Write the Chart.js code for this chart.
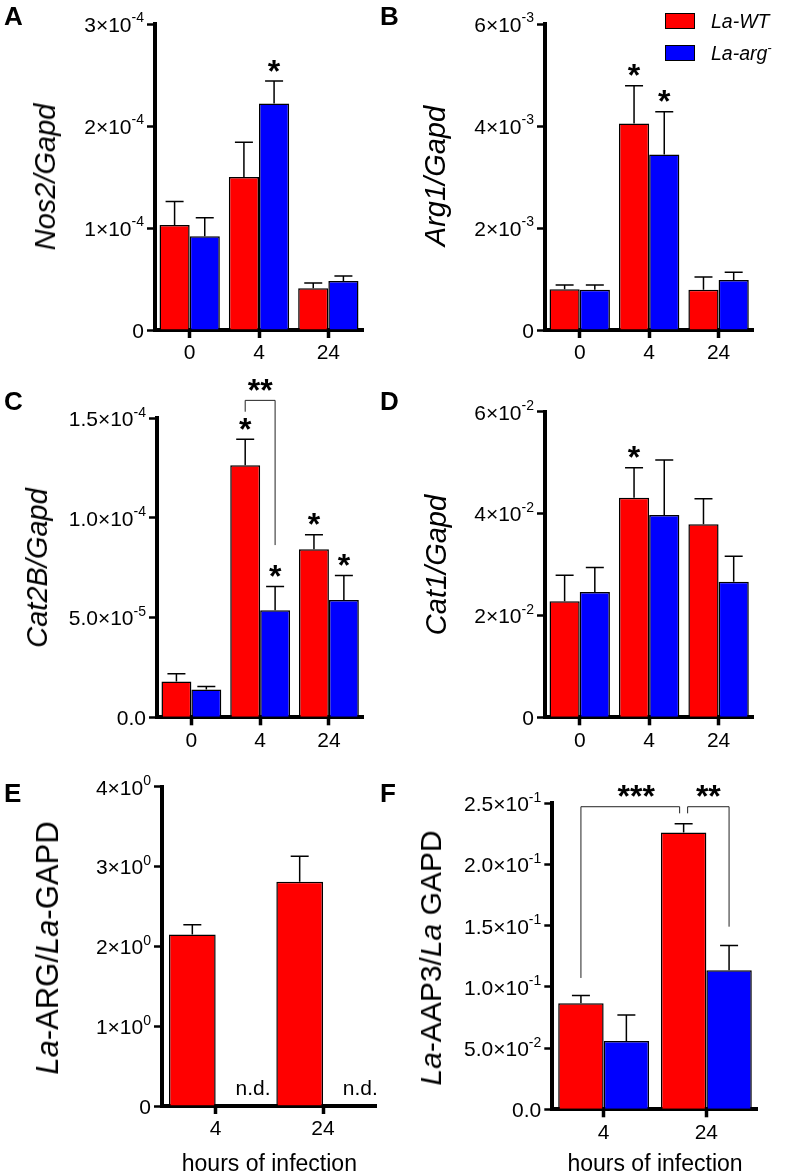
<!DOCTYPE html>
<html>
<head>
<meta charset="utf-8">
<script src="https://cdn.jsdelivr.net/npm/chart.js"></script>
<style>
  html, body { margin: 0; padding: 0; background: #fff; }
  body { width: 787px; height: 1176px; position: relative; overflow: hidden;
         font-family: 'Liberation Sans', Arial, sans-serif; color: #000; }
  canvas { position: absolute; }
  .lbl { position: absolute; font-weight: bold; font-size: 26px; line-height: 1; }
  .yt { position: absolute; line-height: 1; white-space: nowrap;
        transform-origin: 0 0; transform: rotate(-90deg) translateX(-50%); }
  .box { position: absolute; width: 30px; height: 16px; border: 1px solid #000; box-sizing: border-box; }
  .leg { position: absolute; font-size: 19.5px; line-height: 1; font-style: italic; white-space: nowrap; }
  .leg sup { font-style: normal; font-size: 13px; line-height: 0; vertical-align: 8px; }
</style>
</head>
<body>
<canvas id="cA" width="390" height="380" style="left:0;top:0"></canvas>
<canvas id="cB" width="397" height="380" style="left:390px;top:0"></canvas>
<canvas id="cC" width="390" height="400" style="left:0;top:370px"></canvas>
<canvas id="cD" width="397" height="400" style="left:390px;top:370px"></canvas>
<canvas id="cE" width="390" height="406" style="left:0;top:770px"></canvas>
<canvas id="cF" width="397" height="406" style="left:390px;top:770px"></canvas>

<div class="lbl" style="left:4px;top:3px">A</div>
<div class="lbl" style="left:380px;top:3px">B</div>
<div class="lbl" style="left:4px;top:388px">C</div>
<div class="lbl" style="left:380px;top:388px">D</div>
<div class="lbl" style="left:4px;top:780px">E</div>
<div class="lbl" style="left:380px;top:780px">F</div>

<div class="yt" style="left:31px;top:177px;font-size:29px"><i>Nos2/Gapd</i></div>
<div class="yt" style="left:421px;top:176px;font-size:29px"><i>Arg1/Gapd</i></div>
<div class="yt" style="left:22.5px;top:568px;font-size:29px"><i>Cat2B/Gapd</i></div>
<div class="yt" style="left:421.5px;top:565px;font-size:29px"><i>Cat1/Gapd</i></div>
<div class="yt" style="left:31.8px;top:948px;font-size:31px"><i>La</i>-ARG/<i>La</i>-GAPD</div>
<div class="yt" style="left:415.6px;top:958px;font-size:30px"><i>La</i>-AAP3/<i>La</i> GAPD</div>

<div class="box" style="left:665px;top:13px;background:#ff0000"></div>
<div class="box" style="left:665px;top:45px;background:#0000ff"></div>
<div class="leg" style="left:711px;top:12px">La-WT</div>
<div class="leg" style="left:711px;top:44px">La-arg<sup>-</sup></div>

<script>
const hours = ['0', '4', '24'];
const hoursInf = ['4', '24'];

// A: Nos2/Gapd
const nos2WT = [1.03e-4, 1.50e-4, 0.41e-4];
const nos2WTErr = [0.23e-4, 0.34e-4, 0.05e-4];
const nos2Arg = [0.92e-4, 2.22e-4, 0.48e-4];
const nos2ArgErr = [0.18e-4, 0.22e-4, 0.05e-4];
const nos2Ticks = [['0'], ['1×10', '-4'], ['2×10', '-4'], ['3×10', '-4']];

// B: Arg1/Gapd
const arg1WT = [0.80e-3, 4.05e-3, 0.79e-3];
const arg1WTErr = [0.08e-3, 0.74e-3, 0.25e-3];
const arg1Arg = [0.79e-3, 3.44e-3, 0.98e-3];
const arg1ArgErr = [0.09e-3, 0.84e-3, 0.15e-3];
const arg1Ticks = [['0'], ['2×10', '-3'], ['4×10', '-3'], ['6×10', '-3']];

// C: Cat2B/Gapd
const cat2bWT = [1.79e-5, 12.64e-5, 8.43e-5];
const cat2bWTErr = [0.40e-5, 1.31e-5, 0.73e-5];
const cat2bArg = [1.40e-5, 5.37e-5, 5.89e-5];
const cat2bArgErr = [0.14e-5, 1.19e-5, 1.22e-5];
const cat2bTicks = [['0.0'], ['5.0×10', '-5'], ['1.0×10', '-4'], ['1.5×10', '-4']];

// D: Cat1/Gapd
const cat1WT = [2.28e-2, 4.31e-2, 3.79e-2];
const cat1WTErr = [0.51e-2, 0.59e-2, 0.50e-2];
const cat1Arg = [2.46e-2, 3.97e-2, 2.66e-2];
const cat1ArgErr = [0.48e-2, 1.08e-2, 0.50e-2];
const cat1Ticks = [['0'], ['2×10', '-2'], ['4×10', '-2'], ['6×10', '-2']];

// E: La-ARG/La-GAPD (arg- not detected)
const laArgWT = [2.15, 2.81];
const laArgWTErr = [0.12, 0.32];
const laArgArg = [null, null];
const laArgArgErr = [0, 0];
const laArgTicks = [['0'], ['1×10', '0'], ['2×10', '0'], ['3×10', '0'], ['4×10', '0']];

// F: La-AAP3/La GAPD
const aap3WT = [0.0866, 0.2262];
const aap3WTErr = [0.0063, 0.0070];
const aap3Arg = [0.0559, 0.1136];
const aap3ArgErr = [0.0212, 0.0202];
const aap3Ticks = [['0.0'], ['5.0×10', '-2'], ['1.0×10', '-1'], ['1.5×10', '-1'], ['2.0×10', '-1'], ['2.5×10', '-1']];

// significance marks: [dataset, category, text]
const nos2Stars = [[1, 1, '*']];
const arg1Stars = [[0, 1, '*'], [1, 1, '*']];
const cat2bStars = [[0, 1, '*'], [1, 1, '*'], [0, 2, '*'], [1, 2, '*']];
const cat1Stars = [[0, 1, '*']];
// brackets: ends [dataset, category, value], top value, label
const cat2bBrackets = [{ a: [0, 1, 1.533e-4], b: [1, 1, 0.864e-4], top: 1.59e-4, text: '**' }];
const aap3Brackets = [
  { a: [0, 0, 0.1073], b: [0, 1, 0.2418], top: 0.2472, text: '***', bdx: -4, tdx: 6 },
  { a: [0, 1, 0.2418], b: [1, 1, 0.1492], top: 0.2472, text: '**', adx: 4 }
];

const FAMILY = "'Liberation Sans', Arial, sans-serif";
Chart.defaults.font.family = FAMILY;
Chart.defaults.color = '#000';

function glyphText(ctx, text, x, cy) {
  ctx.textAlign = 'center';
  ctx.textBaseline = 'alphabetic';
  const m = ctx.measureText(text);
  ctx.fillText(text, x, cy + (m.actualBoundingBoxAscent - m.actualBoundingBoxDescent) / 2);
}

const annot = {
  id: 'annot',
  afterDatasetsDraw(chart, args, opts) {
    const ctx = chart.ctx, ys = chart.scales.y, xs = chart.scales.x;
    const barX = (d, i) => chart.getDatasetMeta(d).data[i].x;
    ctx.save();
    ctx.strokeStyle = '#000';
    ctx.fillStyle = '#000';
    // error bars (upper only)
    chart.data.datasets.forEach((ds, d) => {
      const meta = chart.getDatasetMeta(d);
      ds.data.forEach((v, i) => {
        const bar = meta.data[i];
        if (v == null) {
          if (opts.nd) {
            ctx.font = '21px ' + FAMILY;
            const x = bar && isFinite(bar.x) ? bar.x : xs.getPixelForValue(i) + 23;
            ctx.textAlign = 'center';
            ctx.textBaseline = 'alphabetic';
            ctx.fillText('n.d.', x + 14, ys.getPixelForValue(0) - 11);
          }
          return;
        }
        const top = ys.getPixelForValue(v + ds.errors[i]);
        ctx.lineWidth = 1.5;
        ctx.beginPath();
        ctx.moveTo(bar.x, bar.y);
        ctx.lineTo(bar.x, top);
        ctx.moveTo(bar.x - 9, top);
        ctx.lineTo(bar.x + 9, top);
        ctx.stroke();
      });
    });
    // stars above error bars
    ctx.font = 'bold 32px ' + FAMILY;
    (opts.stars || []).forEach(([d, i, t]) => {
      const ds = chart.data.datasets[d];
      const top = ys.getPixelForValue(ds.data[i] + ds.errors[i]);
      glyphText(ctx, t, barX(d, i), top - 15.5);
    });
    // comparison brackets
    (opts.brackets || []).forEach(b => {
      const xa = barX(b.a[0], b.a[1]) + (b.adx || 0);
      const xb = barX(b.b[0], b.b[1]) + (b.bdx || 0);
      const yt = ys.getPixelForValue(b.top);
      ctx.lineWidth = 1;
      ctx.strokeStyle = '#222';
      ctx.beginPath();
      ctx.moveTo(xa, ys.getPixelForValue(b.a[2]));
      ctx.lineTo(xa, yt);
      ctx.lineTo(xb, yt);
      ctx.lineTo(xb, ys.getPixelForValue(b.b[2]));
      ctx.stroke();
      glyphText(ctx, b.text, (xa + xb) / 2 + (b.tdx || 0), yt - 15.5);
    });
    ctx.restore();
  },
  // y tick labels with a raised exponent, placed on the scale's own ticks
  afterDraw(chart, args, opts) {
    const ctx = chart.ctx, ys = chart.scales.y;
    const labels = opts.tickLabels || [];
    const right = ys.right - 8 - 3;
    ctx.save();
    ctx.fillStyle = '#000';
    ctx.textBaseline = 'alphabetic';
    ctx.textAlign = 'right';
    ys.ticks.forEach((t, i) => {
      const lab = labels[i];
      if (!lab) return;
      const base = ys.getPixelForValue(t.value) + 7.8;
      let x = right;
      if (lab[1] !== undefined) {
        ctx.font = '14px ' + FAMILY;
        ctx.fillText(lab[1], x, base - 9.4);
        x -= ctx.measureText(lab[1]).width;
      }
      ctx.font = '21px ' + FAMILY;
      ctx.fillText(lab[0], x, base);
    });
    ctx.restore();
  }
};

function panel(id, o) {
  const cv = document.getElementById(id);
  const W = cv.width, H = cv.height;
  const datasets = [
    { label: 'La-WT', data: o.wt, errors: o.wtErr, backgroundColor: '#ff0000' },
    { label: 'La-arg-', data: o.arg, errors: o.argErr, backgroundColor: '#0000ff' }
  ].map(ds => Object.assign(ds, {
    borderColor: '#000', borderWidth: 1.5,
    categoryPercentage: o.catPct, barPercentage: 1
  }));
  return new Chart(cv, {
    type: 'bar',
    data: { labels: o.labels, datasets },
    options: {
      responsive: false,
      animation: false,
      events: [],
      layout: { padding: { left: 0, top: o.area.top, right: W - o.area.right, bottom: 0 } },
      plugins: {
        legend: { display: false },
        tooltip: { enabled: false },
        annot: { stars: o.stars, brackets: o.brackets, nd: o.nd, tickLabels: o.ticks }
      },
      scales: {
        x: {
          z: 1,
          grid: { display: true, offset: false, drawOnChartArea: false, drawTicks: true,
                  tickLength: 8, tickWidth: 3.5, color: '#000' },
          border: { display: true, width: 4, color: '#000' },
          ticks: { color: '#000', font: { size: 21 }, padding: 3, maxRotation: 0 },
          title: o.xTitle
            ? { display: true, text: o.xTitle, color: '#000', font: { size: 23, lineHeight: 1 },
                padding: { top: 0, bottom: 0 } }
            : { display: false },
          afterFit: s => { s.height = H - o.area.bottom; }
        },
        y: {
          z: 1,
          min: 0,
          max: o.max,
          ticks: { stepSize: o.step, display: false },
          grid: { drawOnChartArea: false, tickLength: 8, tickWidth: 2.5, color: '#000' },
          border: { display: true, width: 4, color: '#000' },
          afterFit: s => { s.width = o.area.left; }
        }
      }
    },
    plugins: [annot]
  });
}

panel('cA', { labels: hours, wt: nos2WT, wtErr: nos2WTErr, arg: nos2Arg, argErr: nos2ArgErr,
  max: 3e-4, step: 1e-4, ticks: nos2Ticks, stars: nos2Stars, catPct: 0.87,
  area: { left: 155, right: 363, top: 24, bottom: 330 } });
panel('cB', { labels: hours, wt: arg1WT, wtErr: arg1WTErr, arg: arg1Arg, argErr: arg1ArgErr,
  max: 6e-3, step: 2e-3, ticks: arg1Ticks, stars: arg1Stars, catPct: 0.87,
  area: { left: 155, right: 363.3, top: 24, bottom: 330 } });
panel('cC', { labels: hours, wt: cat2bWT, wtErr: cat2bWTErr, arg: cat2bArg, argErr: cat2bArgErr,
  max: 1.5e-4, step: 5e-5, ticks: cat2bTicks, stars: cat2bStars, brackets: cat2bBrackets, catPct: 0.87,
  area: { left: 157, right: 363.3, top: 48.3, bottom: 347.3 } });
panel('cD', { labels: hours, wt: cat1WT, wtErr: cat1WTErr, arg: cat1Arg, argErr: cat1ArgErr,
  max: 6e-2, step: 2e-2, ticks: cat1Ticks, stars: cat1Stars, catPct: 0.87,
  area: { left: 155, right: 363.3, top: 41.7, bottom: 347.3 } });
panel('cE', { labels: hoursInf, wt: laArgWT, wtErr: laArgWTErr, arg: laArgArg, argErr: laArgArgErr,
  max: 4, step: 1, ticks: laArgTicks, nd: true, catPct: 0.87, xTitle: 'hours of infection',
  area: { left: 162, right: 376.7, top: 16.7, bottom: 336 } });
panel('cF', { labels: hoursInf, wt: aap3WT, wtErr: aap3WTErr, arg: aap3Arg, argErr: aap3ArgErr,
  max: 0.25, step: 0.05, ticks: aap3Ticks, brackets: aap3Brackets, catPct: 0.885, xTitle: 'hours of infection',
  area: { left: 162.3, right: 367.7, top: 33.3, bottom: 339.3 } });
</script>
</body>
</html>
